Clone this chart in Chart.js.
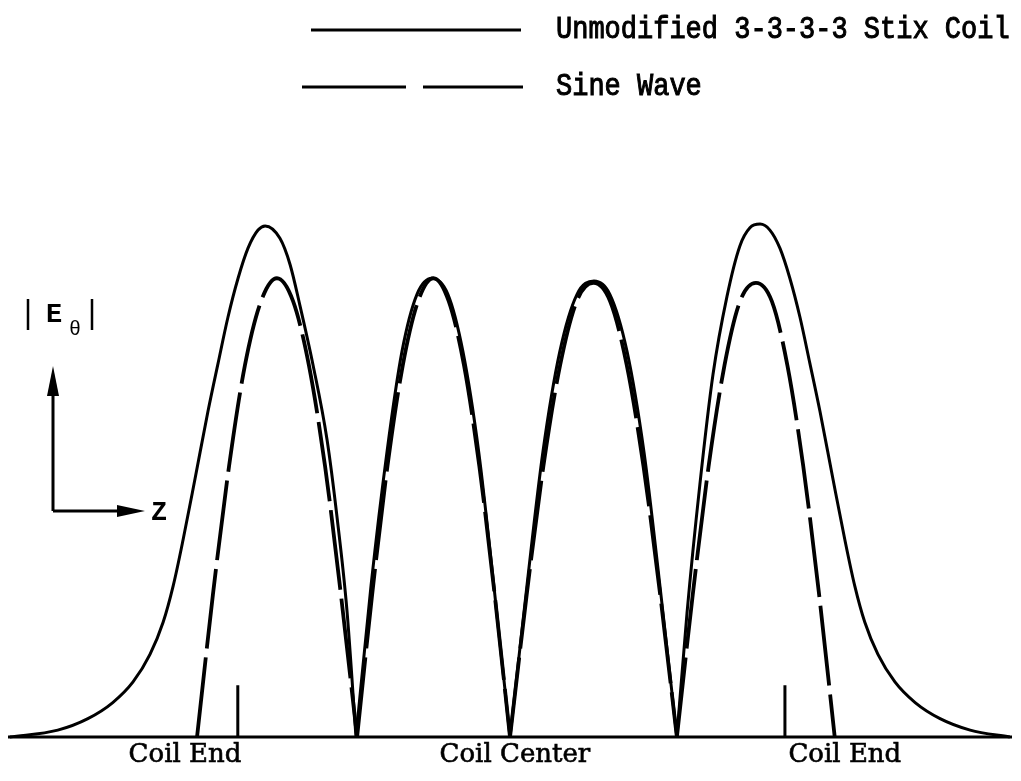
<!DOCTYPE html>
<html>
<head>
<meta charset="utf-8">
<title>Stix coil field</title>
<script src="https://cdn.jsdelivr.net/npm/chart.js@4.4.0/dist/chart.umd.min.js"></script>
<style>
  html, body { margin: 0; padding: 0; background: #fff; }
  #wrap { width: 1021px; height: 781px; }
</style>
</head>
<body>
<div id="wrap"><canvas id="coilChart" width="1021" height="781"></canvas></div>
<script>
// z is measured in coil half-lengths: 0 = coil centre, -1 / +1 = coil ends
// |E_theta| is normalised to the height of the two inner lobes

const stixZ = [-1.833, -1.658, -1.548, -1.457, -1.383, -1.321, -1.273, -1.236, -1.200, -1.156,
               -1.109, -1.072, -1.036, -0.999, -0.963, -0.926, -0.900, -0.846, -0.809, -0.773,
               -0.725, -0.674, -0.637, -0.601, -0.568,
               -0.513, -0.455, -0.400, -0.345, -0.290, -0.232, -0.177, -0.119, -0.064, -0.005,
               0.057, 0.115, 0.177, 0.240, 0.302, 0.360, 0.423, 0.485, 0.543, 0.605,
               0.642, 0.689, 0.737, 0.788, 0.835, 0.872, 0.909, 0.945, 0.982, 1.018,
               1.055, 1.091, 1.128, 1.175, 1.219, 1.255, 1.292, 1.340, 1.402, 1.476,
               1.567, 1.677, 1.822];
const stixE = [0, 0.015, 0.04, 0.075, 0.12, 0.18, 0.25, 0.33, 0.43, 0.564,
               0.71, 0.815, 0.915, 1.0, 1.065, 1.105, 1.114, 1.087, 1.030, 0.941,
               0.811, 0.649, 0.478, 0.276, 0,
               0.33, 0.62, 0.84, 0.965, 1.0, 0.965, 0.84, 0.62, 0.33, 0,
               0.33, 0.62, 0.84, 0.965, 0.994, 0.965, 0.84, 0.62, 0.33, 0,
               0.27, 0.55, 0.79, 0.96, 1.07, 1.11, 1.118, 1.105, 1.065, 1.0,
               0.915, 0.815, 0.71, 0.564, 0.43, 0.33, 0.25, 0.18, 0.12, 0.075,
               0.04, 0.015, 0];

const sineZ = [-1.149, -1.091, -1.032, -0.974, -0.915, -0.857, -0.798, -0.740, -0.681, -0.623, -0.564,
               -0.509, -0.453, -0.397, -0.341, -0.285, -0.229, -0.173, -0.117, -0.061, -0.005,
               0.056, 0.117, 0.178, 0.239, 0.300, 0.361, 0.422, 0.483, 0.544, 0.605,
               0.663, 0.721, 0.779, 0.836, 0.894, 0.952, 1.009, 1.067, 1.125, 1.182];
const sineE = [0, 0.31, 0.59, 0.81, 0.95, 1.0, 0.95, 0.81, 0.59, 0.31, 0,
               0.31, 0.59, 0.81, 0.95, 1.0, 0.95, 0.81, 0.59, 0.31, 0,
               0.31, 0.59, 0.81, 0.95, 0.99, 0.95, 0.81, 0.59, 0.31, 0,
               0.31, 0.59, 0.81, 0.95, 0.99, 0.95, 0.81, 0.59, 0.31, 0];

const coilEndZ = [-1, 1];
const endTickHeight = 0.113;

const axisLabels = ['Coil End', 'Coil Center', 'Coil End'];
const axisLabelZ = [-1.193, 0.013, 1.219];
const seriesNames = ['Unmodified 3-3-3-3 Stix Coil', 'Sine Wave'];

// split the trace at inner zeros so the troughs keep their sharp V shape
function toPoints(zs, es) {
  const pts = [];
  zs.forEach((z, i) => {
    pts.push({ x: z, y: es[i] });
    if (es[i] === 0 && i > 0 && i < zs.length - 1) {
      pts.push({ x: z, y: null });
      pts.push({ x: z, y: 0 });
    }
  });
  return pts;
}

const tickPoints = [];
coilEndZ.forEach((z, i) => {
  if (i > 0) tickPoints.push({ x: z, y: null });
  tickPoints.push({ x: z, y: 0 }, { x: z, y: endTickHeight });
});

const solidDash = [];
const sineDash = [80, 9];

// typewriter-ish text: regular face, slightly thickened and stretched upward
function typeText(ctx, text, x, y, size, stretch) {
  ctx.save();
  ctx.translate(x, y);
  ctx.scale(1, stretch);
  ctx.font = size + 'px "Liberation Mono"';
  ctx.lineWidth = 0.9;
  ctx.fillText(text, 0, 0);
  ctx.strokeText(text, 0, 0);
  ctx.restore();
}

const decor = {
  id: 'decor',
  afterDraw(chart) {
    const { ctx, chartArea } = chart;
    const x = chart.scales.x, y = chart.scales.y;
    const y0 = y.getPixelForValue(0);
    ctx.save();
    ctx.strokeStyle = '#000';
    ctx.fillStyle = '#000';

    // baseline
    ctx.lineWidth = 3;
    ctx.beginPath();
    ctx.moveTo(chartArea.left, y0);
    ctx.lineTo(chartArea.right, y0);
    ctx.stroke();

    // labels under the baseline
    ctx.font = '26px "DejaVu Serif"';
    ctx.textAlign = 'center';
    ctx.textBaseline = 'middle';
    ctx.lineWidth = 0.6;
    axisLabels.forEach((t, i) => {
      const px = x.getPixelForValue(axisLabelZ[i]);
      ctx.fillText(t, px, y0 + 18);
      ctx.strokeText(t, px, y0 + 18);
    });

    // legend
    const rows = [
      { x1: 311, x2: 521, y: 30, dash: solidDash, text: seriesNames[0] },
      { x1: 302, x2: 523, y: 87, dash: [104, 17], text: seriesNames[1] }
    ];
    ctx.textAlign = 'left';
    rows.forEach(r => {
      ctx.lineWidth = 3;
      ctx.setLineDash(r.dash);
      ctx.beginPath();
      ctx.moveTo(r.x1, r.y);
      ctx.lineTo(r.x2, r.y);
      ctx.stroke();
      ctx.setLineDash([]);
      typeText(ctx, r.text, 556, r.y, 27, 1.15);
    });

    // |E_theta| label
    ctx.lineWidth = 2.5;
    ctx.beginPath();
    ctx.moveTo(28, 299); ctx.lineTo(28, 330);
    ctx.moveTo(92, 299); ctx.lineTo(92, 330);
    ctx.stroke();
    ctx.font = 'bold 27px "Liberation Mono"';
    ctx.fillText('E', 46, 315);
    ctx.font = '20px "Liberation Mono"';
    ctx.fillText('\u03b8', 69, 330);

    // direction arrows
    ctx.lineWidth = 3;
    ctx.beginPath();
    ctx.moveTo(53, 511); ctx.lineTo(53, 390);
    ctx.moveTo(53, 511); ctx.lineTo(122, 511);
    ctx.stroke();
    ctx.beginPath();
    ctx.moveTo(53, 366); ctx.lineTo(47, 396); ctx.lineTo(59, 396); ctx.closePath();
    ctx.fill();
    ctx.beginPath();
    ctx.moveTo(145, 511); ctx.lineTo(117, 505); ctx.lineTo(117, 517); ctx.closePath();
    ctx.fill();
    ctx.font = 'bold 27px "Liberation Mono"';
    ctx.fillText('Z', 151, 513);
    ctx.restore();
  }
};

new Chart(document.getElementById('coilChart'), {
  type: 'line',
  data: {
    datasets: [
      {
        label: seriesNames[0],
        data: toPoints(stixZ, stixE),
        borderColor: '#000',
        borderWidth: 3,
        borderDash: solidDash,
        pointRadius: 0,
        cubicInterpolationMode: 'monotone',
        clip: false
      },
      {
        label: seriesNames[1],
        data: toPoints(sineZ, sineE),
        borderColor: '#000',
        borderWidth: 3.8,
        borderDash: sineDash,
        pointRadius: 0,
        cubicInterpolationMode: 'monotone',
        clip: false
      },
      {
        label: 'coil ends',
        data: tickPoints,
        borderColor: '#000',
        borderWidth: 3,
        pointRadius: 0,
        tension: 0,
        clip: false
      }
    ]
  },
  options: {
    responsive: false,
    animation: false,
    devicePixelRatio: 1,
    layout: { padding: { left: 8, right: 9, top: 3, bottom: 44 } },
    plugins: {
      legend: { display: false },
      tooltip: { enabled: false }
    },
    scales: {
      x: { type: 'linear', min: -1.84, max: 1.83, display: false },
      y: { min: 0, max: 1.6, display: false }
    }
  },
  plugins: [decor]
});
</script>
</body>
</html>
